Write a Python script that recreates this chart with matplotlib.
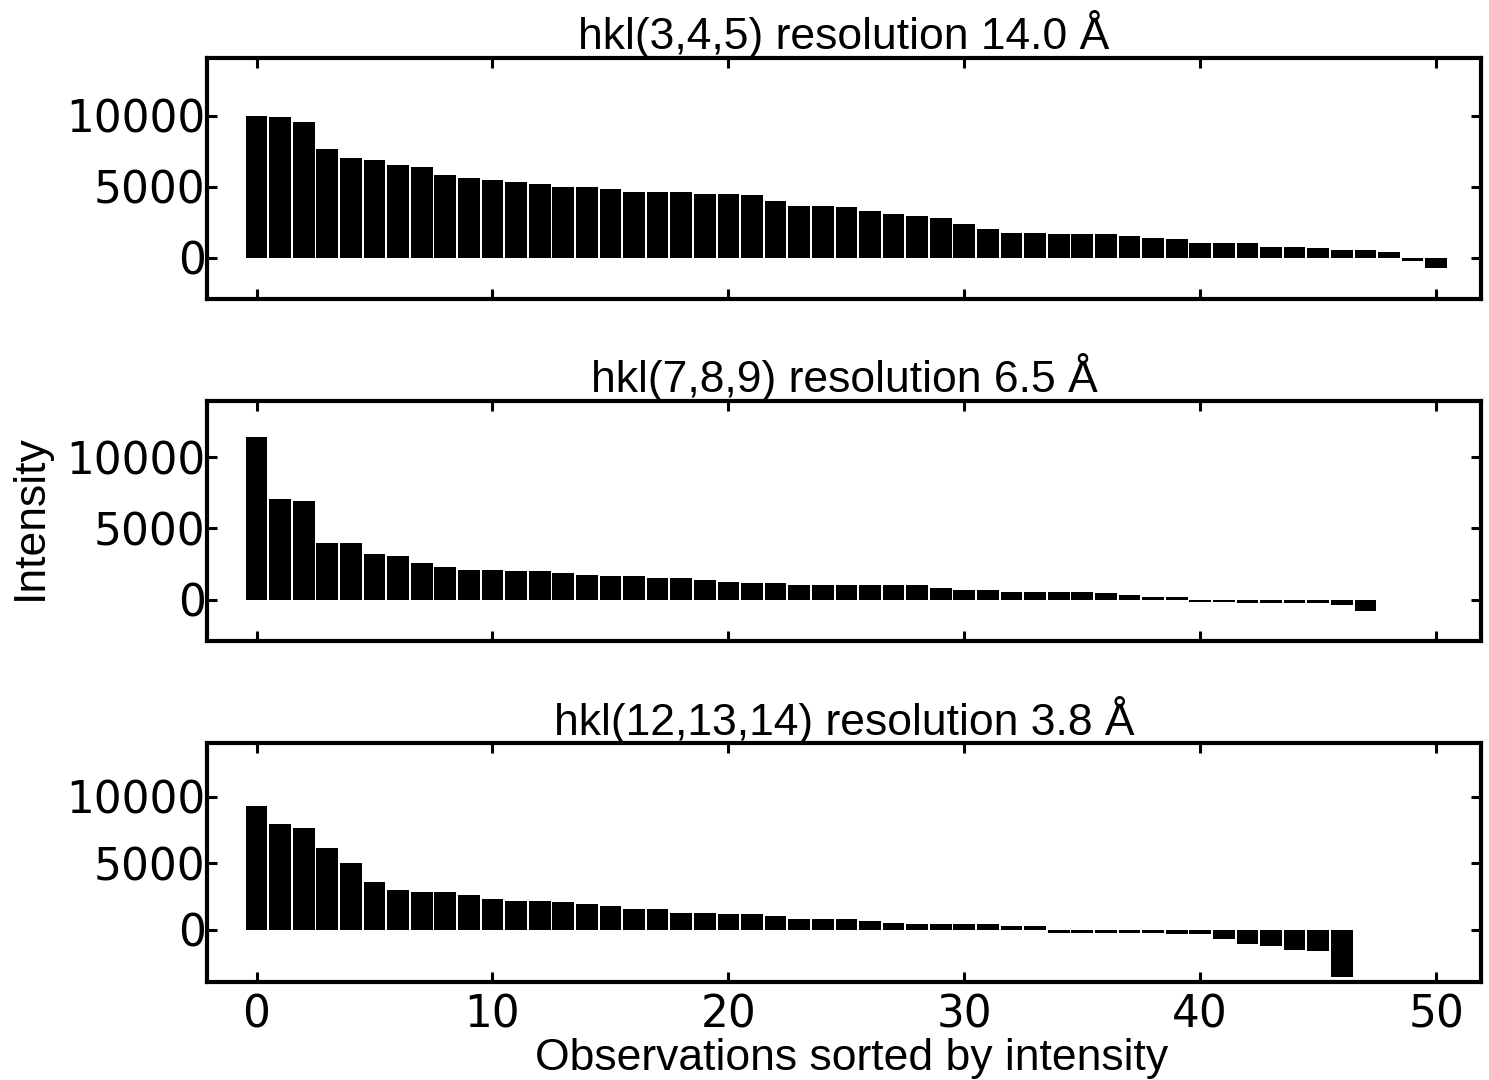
import matplotlib
matplotlib.use("Agg")
import matplotlib.pyplot as plt
import numpy as np

# intensities, sorted high to low
titles = ["hkl(3,4,5) resolution 14.0 \u00c5",
          "hkl(7,8,9) resolution 6.5 \u00c5",
          "hkl(12,13,14) resolution 3.8 \u00c5"]

hkl_345 = [10000, 9880, 9530, 7630, 7020, 6900, 6550, 6410, 5820, 5590,
           5450, 5330, 5210, 5000, 5000, 4860, 4620, 4620, 4620, 4510,
           4510, 4390, 4010, 3660, 3660, 3550, 3310, 3080, 2960, 2820,
           2350, 2000, 1760, 1760, 1640, 1640, 1640, 1530, 1410, 1290,
           1060, 1060, 1060, 780, 780, 720, 570, 570, 440, -220,
           -750]

hkl_789 = [11450, 7090, 6950, 4000, 4000, 3190, 3050, 2560, 2330, 2090,
           2090, 1980, 1980, 1860, 1740, 1630, 1630, 1510, 1510, 1370,
           1260, 1160, 1160, 1000, 1000, 1000, 1000, 1000, 1000, 790,
           670, 670, 560, 560, 560, 560, 450, 310, 170, 170,
           -140, -140, -260, -260, -260, -260, -350, -820]

hkl_121314 = [9330, 7930, 7680, 6150, 5000, 3600, 2980, 2830, 2830, 2600,
              2330, 2200, 2200, 2080, 1950, 1830, 1550, 1550, 1300, 1300,
              1180, 1180, 1050, 800, 800, 800, 680, 550, 430, 430,
              430, 420, 300, 300, -220, -220, -220, -220, -220, -330,
              -330, -700, -1080, -1200, -1480, -1600, -3500]

series = [hkl_345, hkl_789, hkl_121314]
ylims = [(-2900, 14050), (-2900, 13950), (-3900, 14020)]

W, H = 1489, 1080
fig = plt.figure(figsize=(W / 100, H / 100), dpi=100)

# axes boxes in pixels: (top, bottom)
boxes = [(58, 299), (401, 641), (743, 982)]
left, right = 207, 1481

title_font = dict(family=["Liberation Sans", "DejaVu Sans"], size=32)

axes = []
for i, (vals, (top, bot)) in enumerate(zip(series, boxes)):
    ax = fig.add_axes([left / W, 1 - bot / H, (right - left) / W, (bot - top) / H])
    x = np.arange(len(vals))
    ax.bar(x, vals, width=0.92, color="black", linewidth=0)
    ax.set_xlim(-2.1, 51.9)
    ax.set_ylim(*ylims[i])
    ax.set_xticks([0, 10, 20, 30, 40, 50])
    ax.set_yticks([0, 5000, 10000])
    ax.tick_params(direction="in", top=True, right=True, length=7, width=2.2,
                   labelsize=31.5)
    ax.tick_params(axis="y", pad=1)
    ax.tick_params(axis="x", pad=8)
    if i < 2:
        ax.tick_params(axis="x", labelbottom=False)
    for s in ax.spines.values():
        s.set_linewidth(3)
    ax.set_title(titles[i], fontdict=title_font, pad=6)
    axes.append(ax)

axes[2].set_xlabel("Observations sorted by intensity", fontdict=title_font, labelpad=0)
axes[2].xaxis.set_label_coords(0.506, -0.235)
fig.text(30 / W, 1 - 517 / H, "Intensity", rotation=90, ha="center", va="center",
         family=["Liberation Sans", "DejaVu Sans"], size=32)

fig.savefig("out.png", dpi=100)
